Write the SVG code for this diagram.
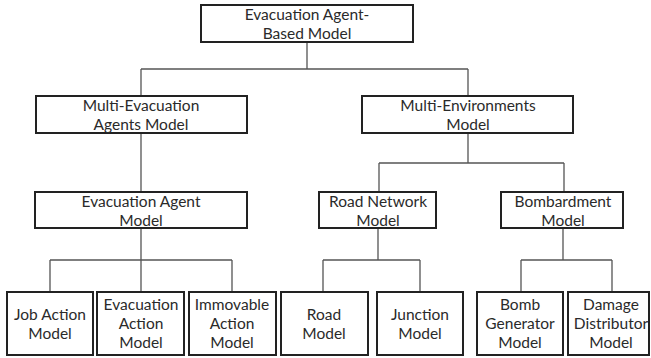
<svg xmlns="http://www.w3.org/2000/svg" width="651" height="358" viewBox="0 0 651 358">
<style>
.box{fill:#fff;stroke:#222;stroke-width:2}
.ln{fill:none;stroke:#555;stroke-width:1.3}
text{font-family:Lato,"Liberation Sans",sans-serif;font-size:15.5px;fill:#2a2a2a;text-anchor:middle}
</style>
<rect width="651" height="358" fill="#fff"/>
<g id="connectors">
<path class="ln" d="M307 42V69M141 69H468M141 69V96M468 69V96"/>
<path class="ln" d="M141 133V192M468 133V163M379 163H564M379 163V192M564 163V192"/>
<path class="ln" d="M141 228V292M50 260H232M50 260V292M232 260V292"/>
<path class="ln" d="M378 228V260M323 260H420M323 260V292M420 260V292"/>
<path class="ln" d="M563 228V260M521 260H612M521 260V292M612 260V292"/>
</g>
<g id="n-root"><rect class="box" x="201" y="5" width="212" height="37"/><text x="307" y="20">Evacuation Agent-</text><text x="307" y="39">Based Model</text></g>
<g id="n-multi-agents"><rect class="box" x="36" y="96" width="211" height="37"/><text x="141" y="111">Multi-Evacuation</text><text x="141" y="130">Agents Model</text></g>
<g id="n-multi-env"><rect class="box" x="362" y="96" width="211" height="37"/><text x="468" y="111">Multi-Environments</text><text x="468" y="130">Model</text></g>
<g id="n-agent"><rect class="box" x="35" y="192" width="212" height="36"/><text x="141" y="207">Evacuation Agent</text><text x="141" y="226">Model</text></g>
<g id="n-road-net"><rect class="box" x="319" y="192" width="117" height="36"/><text x="378" y="207">Road Network</text><text x="378" y="226">Model</text></g>
<g id="n-bomb"><rect class="box" x="501" y="192" width="122" height="36"/><text x="563" y="207">Bombardment</text><text x="563" y="226">Model</text></g>
<g id="n-job"><rect class="box" x="7" y="292" width="86" height="63"/><text x="50" y="320">Job Action</text><text x="50" y="339">Model</text></g>
<g id="n-evac-action"><rect class="box" x="97" y="292" width="87" height="63"/><text x="141" y="310">Evacuation</text><text x="141" y="329">Action</text><text x="141" y="348">Model</text></g>
<g id="n-immov"><rect class="box" x="189" y="292" width="87" height="63"/><text x="232" y="310">Immovable</text><text x="232" y="329">Action</text><text x="232" y="348">Model</text></g>
<g id="n-road"><rect class="box" x="281" y="292" width="87" height="63"/><text x="324" y="320">Road</text><text x="324" y="339">Model</text></g>
<g id="n-junction"><rect class="box" x="377" y="292" width="86" height="63"/><text x="420" y="320">Junction</text><text x="420" y="339">Model</text></g>
<g id="n-bombgen"><rect class="box" x="477" y="292" width="86" height="63"/><text x="520" y="310">Bomb</text><text x="520" y="329">Generator</text><text x="520" y="348">Model</text></g>
<g id="n-damage"><rect class="box" x="568" y="292" width="81" height="63"/><text x="611" y="310">Damage</text><text x="611" y="329">Distributor</text><text x="611" y="348">Model</text></g>
</svg>
